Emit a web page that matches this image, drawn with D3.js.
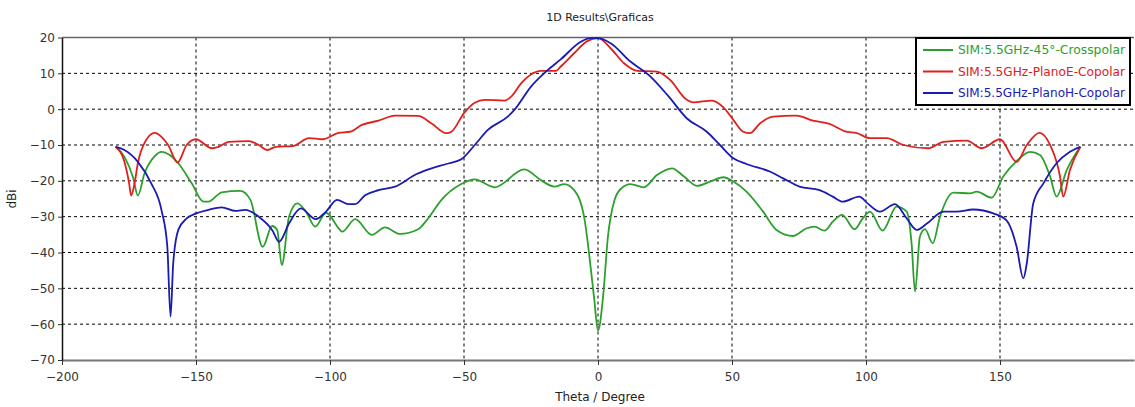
<!DOCTYPE html>
<html>
<head>
<meta charset="utf-8">
<script src="https://cdn.jsdelivr.net/npm/d3@7"></script>
<style>
  body { margin: 0; background: #fff; }
  text { font-family: "DejaVu Sans", Tahoma, sans-serif; }
</style>
</head>
<body>
<svg id="chart" width="1135" height="407"></svg>
<script>
// tick values
var xTicks = [-200, -150, -100, -50, 0, 50, 100, 150];
var yTicks = [-70, -60, -50, -40, -30, -20, -10, 0, 10, 20];

// series names (legend order)
var seriesNames = ["SIM:5.5GHz-45\u00b0-Crosspolar", "SIM:5.5GHz-PlanoE-Copolar", "SIM:5.5GHz-PlanoH-Copolar"];
var seriesColors = ["#2ca02c", "#e0201c", "#1a1ab4"];

// 45deg crosspolar, [theta, dBi]
var crossData = [
  [-180,-10.5],[-176.7,-13.3],[-173.5,-19],[-171.7,-24.1],[-169.2,-17.9],[-165.5,-13.2],[-162.9,-11.9],
  [-159.8,-12.8],[-156.6,-15.1],[-151.6,-20.7],[-147.2,-25.8],[-145.4,-25.8],[-140.4,-23.2],
  [-133.5,-22.8],[-129.7,-25.3],[-125.1,-38.4],[-121.6,-32.6],[-119.7,-33.7],[-118,-43.5],
  [-115.3,-30],[-112.2,-26.3],[-109,-28.6],[-105.5,-32.8],[-101.5,-28.9],[-96.5,-33.5],
  [-95.5,-34.2],[-90.6,-30.7],[-84.4,-35.1],[-79.5,-33],[-73.9,-34.8],[-67.1,-33.5],[-63.4,-30.5],
  [-58.4,-25.3],[-51,-20.9],[-46,-19.6],[-38.6,-21.8],[-27.5,-16.8],[-21.3,-19.8],[-16.3,-21.6],
  [-12.6,-20.9],[-8.9,-22.6],[-5.2,-30],[-1.5,-52.3],[0,-61.8],
  [1.9,-52.3],[3.7,-35.6],[6.2,-25.3],[8.7,-22.1],[12.1,-20.9],[17.1,-21.8],[22,-18.4],[27.6,-16.5],
  [32.1,-18.8],[36.9,-21.4],[41.8,-20.2],[46.8,-19],[50.5,-20.2],[55.4,-23],[61.6,-28.6],
  [66.6,-33.7],[72.8,-35.4],[77.7,-33.3],[80.8,-32.8],[84.5,-33.9],[87.6,-31.4],[91.1,-29.5],
  [95.7,-33.5],[98.8,-30.5],[101.5,-28.6],[106.2,-33.9],[111.4,-27.2],[115.2,-28.6],[117,-37.4],
  [118.3,-50.9],[120.1,-35.6],[122,-33.5],[124.9,-37.4],[127.6,-30],[132.6,-23.3],[138.8,-23.5],
  [141.3,-23],[146.9,-24.7],[151.2,-18.8],[156.2,-14.5],[161.2,-11.9],[164.9,-12.8],[168.7,-18.8],
  [171.1,-24.4],[174.9,-17],[180,-10.5]
];

// E-plane copolar
var planoEData = [
  [-180,-10.5],[-177,-14],[-175,-20.5],[-174.2,-24.1],[-173,-21],[-171.7,-15.1],[-168.5,-8.5],
  [-165.4,-6.6],[-162.5,-8],[-160.4,-10],[-156.9,-14.9],[-153.5,-10],[-150,-8.4],[-144.1,-10.9],
  [-141.6,-10.5],[-137.8,-9.1],[-130.3,-8.9],[-126.6,-10],[-123.4,-11.4],[-120.3,-10.5],
  [-114,-10.3],[-107.8,-8.1],[-102.8,-8.4],[-96.8,-6.6],[-92.5,-6.3],[-88.1,-4.4],[-81.9,-3.2],
  [-75.7,-1.8],[-67.1,-1.9],[-62.1,-4],[-56.6,-6.7],[-54.7,-6.3],[-50,-1.1],[-46,1.8],[-42.3,2.6],
  [-34.9,2.4],[-32.4,3.5],[-28.7,7.2],[-25,9.7],[-21.3,10.7],[-15.7,10.7],[-13.9,11.9],
  [-8.9,15.6],[-4,19],[0,19.8],
  [4.7,17],[9.7,12.8],[14.6,10.7],[22,10.5],[27,8.1],[32.5,3],[35.6,1.9],[42.5,2.4],[46.8,0.5],
  [50.5,-3],[54.2,-6.3],[56.7,-6.7],[60.4,-4],[65.3,-2.1],[74,-1.8],[80.2,-3.2],[86.4,-4.1],
  [92.6,-6.3],[96.3,-6.6],[101.5,-8.1],[107.7,-8.1],[113.9,-10],[123.3,-10.9],[128.9,-9.1],
  [137.6,-8.8],[143.2,-10.9],[150,-8.4],[156.2,-14.7],[160,-10],[164.7,-6.6],[168.7,-10],
  [172.4,-18.8],[173.6,-24.4],[176.1,-17],[180,-10.5]
];

// H-plane copolar
var planoHData = [
  [-180,-10.5],[-176.7,-11.4],[-171.7,-14.7],[-166.7,-20.7],[-162.9,-28.1],[-160.7,-38.4],
  [-159.5,-57.9],[-158.5,-43],[-156.6,-33.7],[-153.5,-30.5],[-150,-29.1],[-145.4,-28.1],
  [-140.4,-27.4],[-135.3,-28.4],[-131.6,-28.1],[-126.6,-30],[-121.6,-33.7],[-119,-37],
  [-115.3,-31.9],[-110.9,-27.7],[-105.3,-30.7],[-101.5,-28.6],[-97.4,-25.3],[-93.1,-26.5],
  [-90.6,-26.5],[-86.9,-24],[-81.9,-22.6],[-75.7,-21.6],[-67.7,-18.1],[-62.1,-16.5],[-56.6,-15.3],
  [-51,-14],[-46,-10],[-41.1,-5.8],[-33.7,-2.1],[-31.2,-0.2],[-25,6.3],[-18.8,10.9],[-13.9,13.9],
  [-6.4,18.8],[-2.7,19.8],[0,19.8],
  [4.7,18.4],[12.1,13.3],[19.6,9.1],[26.4,3.5],[33.2,-2.6],[40.6,-6.3],[45.5,-10],[50.5,-13.7],
  [55.4,-15.3],[64.1,-17.4],[69.1,-19.3],[75.2,-21.6],[82.7,-22.6],[87.6,-24.4],[91.3,-25.8],
  [97.5,-24.4],[100.6,-26.3],[105.2,-28.6],[110.8,-26.5],[115.2,-30.5],[118.9,-33.7],[122.6,-32],
  [128.9,-28.6],[133.8,-28.6],[140,-28],[147.5,-29.1],[152.5,-31.1],[156.2,-38.4],[158.7,-47.2],
  [160,-43],[162.4,-26.3],[166.2,-20.7],[171.1,-15.1],[176.1,-11.9],[180,-10.5]
];

var allSeries = [crossData, planoEData, planoHData];

var margin = {top: 37.5, right: 1, bottom: 47, left: 62};
var width = 1135 - margin.left - margin.right;
var height = 407 - margin.top - margin.bottom;

var svg = d3.select("#chart");

var x = d3.scaleLinear().domain([-200, 200]).range([margin.left, margin.left + width]);
var y = d3.scaleLinear().domain([-70, 20]).range([margin.top + height, margin.top]);

// gridlines
var grid = svg.append("g").attr("class", "grid");
grid.selectAll(".vgrid")
  .data(xTicks.filter(function(d) { return d > -200; }))
  .enter().append("line")
    .attr("x1", function(d) { return x(d); })
    .attr("x2", function(d) { return x(d); })
    .attr("y1", y(20))
    .attr("y2", y(-70))
    .attr("stroke", "#000")
    .attr("stroke-width", 1)
    .attr("stroke-dasharray", "3,3");
grid.selectAll(".hgrid")
  .data(yTicks.filter(function(d) { return d > -70 && d < 20; }))
  .enter().append("line")
    .attr("x1", x(-200))
    .attr("x2", x(200))
    .attr("y1", function(d) { return y(d); })
    .attr("y2", function(d) { return y(d); })
    .attr("stroke", "#000")
    .attr("stroke-width", 1)
    .attr("stroke-dasharray", "3,3");

// top border
svg.append("line")
  .attr("x1", x(-200)).attr("x2", x(200))
  .attr("y1", y(20)).attr("y2", y(20))
  .attr("stroke", "#666").attr("stroke-width", 1.5);

// axes
var xAxis = svg.append("g")
  .attr("transform", "translate(0," + y(-70) + ")")
  .call(d3.axisBottom(x).tickValues(xTicks).tickSize(5).tickSizeOuter(0));
xAxis.select(".domain").attr("stroke", "#777").attr("stroke-width", 2);
xAxis.selectAll(".tick line").attr("stroke", "#333");
xAxis.selectAll("text").attr("font-size", 12).attr("fill", "#333").attr("dy", "1.05em");

var yAxis = svg.append("g")
  .attr("transform", "translate(" + x(-200) + ",0)")
  .call(d3.axisLeft(y).tickValues(yTicks).tickSize(4).tickSizeOuter(0));
yAxis.select(".domain").attr("stroke", "#111").attr("stroke-width", 1.5);
yAxis.selectAll(".tick line").attr("stroke", "#333");
yAxis.selectAll("text").attr("font-size", 12).attr("fill", "#333").attr("x", -7);

// curves
var line = d3.line()
  .x(function(d) { return x(d[0]); })
  .y(function(d) { return y(d[1]); })
  .curve(d3.curveMonotoneX);

svg.selectAll(".series")
  .data(allSeries)
  .enter().append("path")
    .attr("class", "series")
    .attr("d", line)
    .attr("fill", "none")
    .attr("stroke", function(d, i) { return seriesColors[i]; })
    .attr("stroke-width", 1.8)
    .attr("stroke-linejoin", "round");

// titles
svg.append("text")
  .attr("x", 600).attr("y", 21)
  .attr("text-anchor", "middle")
  .attr("font-size", 11).attr("fill", "#222")
  .text("1D Results\\Graficas");

svg.append("text")
  .attr("x", 600).attr("y", 401)
  .attr("text-anchor", "middle")
  .attr("font-size", 12).attr("fill", "#222")
  .text("Theta / Degree");

svg.append("text")
  .attr("transform", "translate(16,199) rotate(-90)")
  .attr("text-anchor", "middle")
  .attr("font-size", 12).attr("fill", "#222")
  .text("dBi");

// legend
var legend = svg.append("g").attr("transform", "translate(916,38)");
legend.append("rect")
  .attr("width", 214).attr("height", 67)
  .attr("fill", "#fff").attr("stroke", "#000").attr("stroke-width", 2);
var items = legend.selectAll(".item")
  .data(seriesNames)
  .enter().append("g")
    .attr("transform", function(d, i) { return "translate(0," + (12 + i * 21.5) + ")"; });
items.append("line")
  .attr("x1", 7).attr("x2", 37)
  .attr("stroke", function(d, i) { return seriesColors[i]; })
  .attr("stroke-width", 2);
items.append("text")
  .attr("x", 42).attr("dy", "0.35em")
  .attr("font-size", 12)
  .attr("fill", function(d, i) { return seriesColors[i]; })
  .attr("textLength", 167)
  .attr("lengthAdjust", "spacingAndGlyphs")
  .text(function(d) { return d; });
</script>
</body>
</html>
